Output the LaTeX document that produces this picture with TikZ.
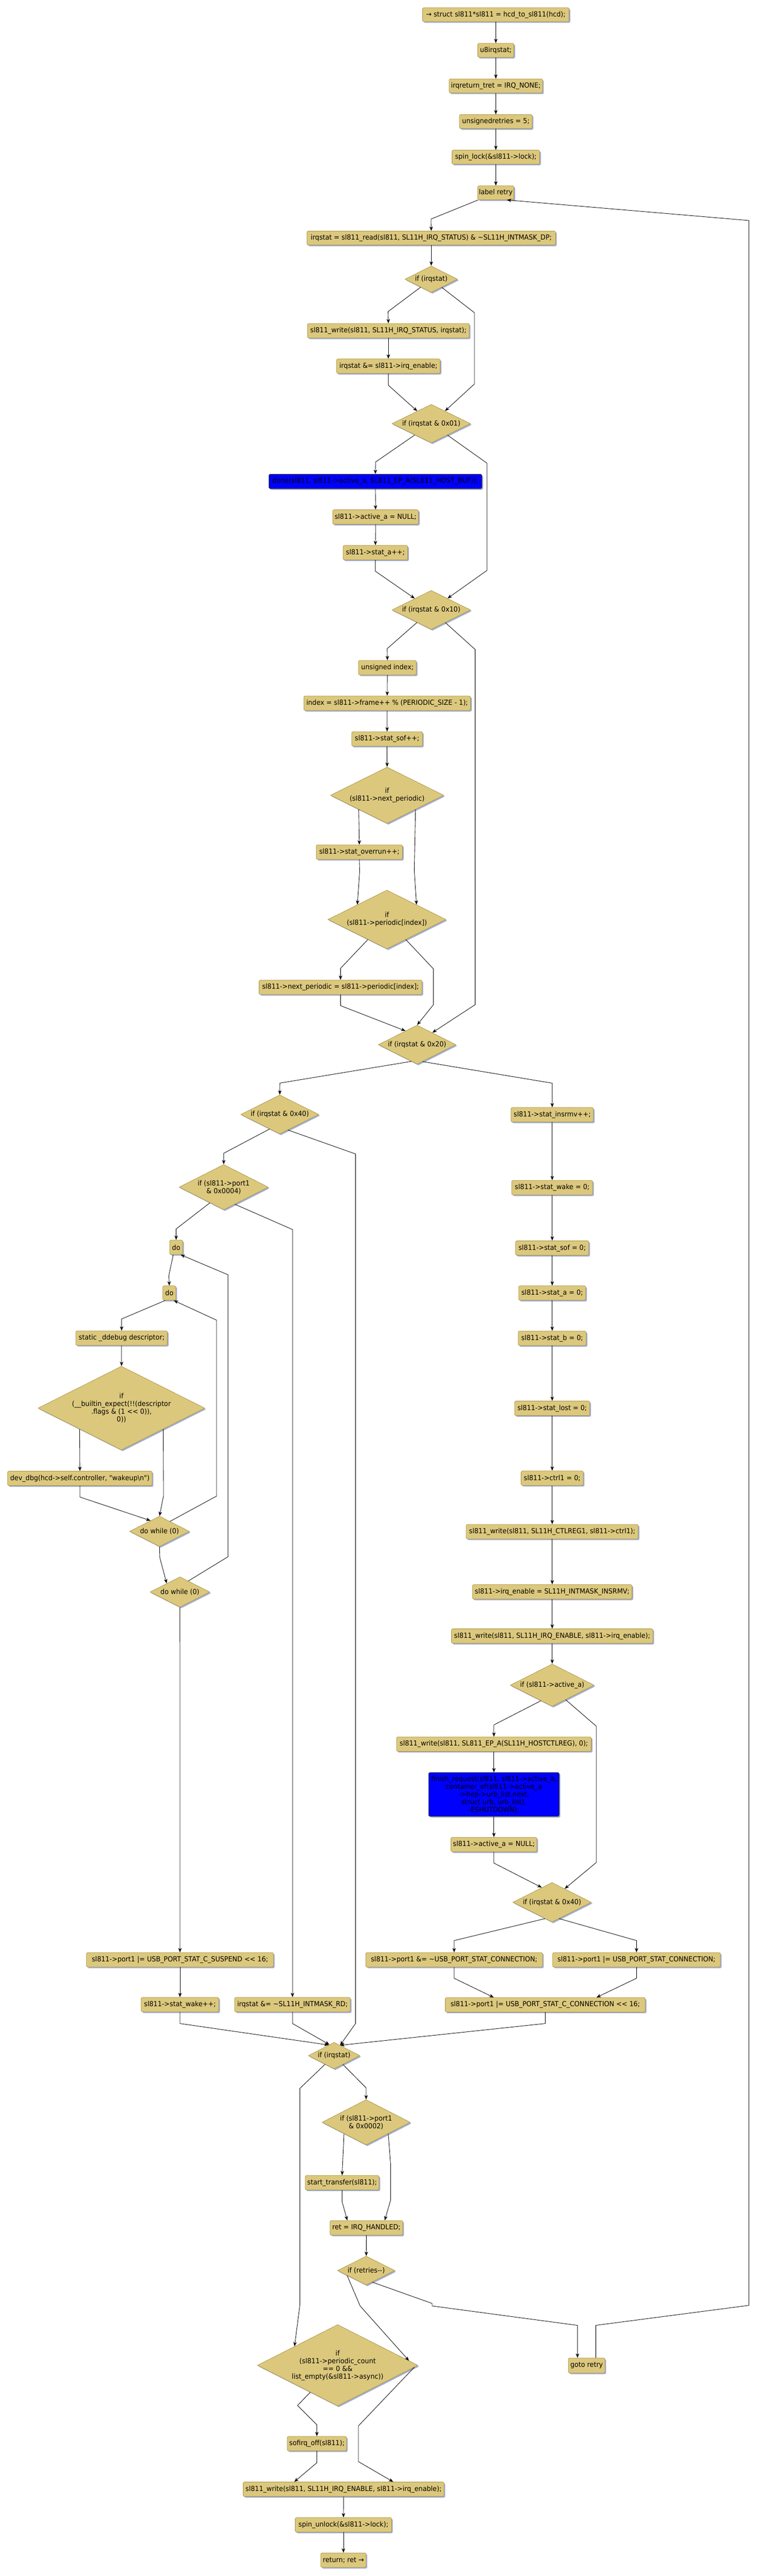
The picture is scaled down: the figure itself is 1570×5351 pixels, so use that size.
\documentclass[tikz,border=0pt]{standalone}
\usepackage{fontspec}
\newfontfamily\mf{DejaVu Sans}[FakeStretch=0.94]
\usetikzlibrary{shapes.geometric,shadows,arrows.meta,calc}
\definecolor{boxfill}{RGB}{220,200,125}
\definecolor{boxline}{RGB}{168,144,62}
\definecolor{shad}{RGB}{162,176,212}
\definecolor{bluefill}{RGB}{0,0,255}
\begin{document}
\begin{tikzpicture}[x=1pt,y=-1pt,
  box/.style={draw=boxline, fill=boxfill, rounded corners=3pt, line width=0.8pt,
    inner xsep=2.5pt, inner ysep=0pt, minimum height=30pt, align=center,
    font=\mf\fontsize{14.5}{16}\selectfont,
    drop shadow={shadow xshift=2.5pt, shadow yshift=-2.5pt, fill=shad, opacity=1}},
  bbox/.style={box, fill=bluefill, draw=boxline!40!black},
  dia/.style={shape=diamond, draw=boxline, fill=boxfill, line width=0.8pt, inner sep=0pt,
    drop shadow={shadow xshift=2.5pt, shadow yshift=-2.5pt, fill=shad, opacity=1}},
  dtext/.style={font=\mf\fontsize{14.5}{16}\selectfont, align=center, inner sep=0pt},
  arr/.style={draw=black, line width=0.9pt, -{Stealth[length=9pt,width=7pt,inset=2.5pt]}},
]
\useasboundingbox[fill=white] (0,0) rectangle (1570,5351);

% ---------- top column ----------
\node[box, minimum width=304pt, minimum height=29pt] (n1) at (1029,30.5) {→ struct sl811*sl811 = hcd\_to\_sl811(hcd);};
\node[box, minimum width=75pt, minimum height=29pt] (n2) at (1029,104.5) {u8irqstat;};
\node[box, minimum width=194pt, minimum height=29pt] (n3) at (1029,178.5) {irqreturn\_tret = IRQ\_NONE;};
\node[box, minimum width=151pt, minimum height=29pt] (n4) at (1029,252.5) {unsignedretries = 5;};
\node[box, minimum width=182pt, minimum height=29pt] (n5) at (1029,326.5) {spin\_lock(\&sl811->lock);};
\node[box, minimum width=75pt, minimum height=29pt] (n6) at (1029,400.5) {label retry};
\node[box, minimum width=516pt, minimum height=29pt] (n7) at (895,494.5) {irqstat = sl811\_read(sl811, SL11H\_IRQ\_STATUS) \& \textasciitilde SL11H\_INTMASK\_DP;};

\node[dia, minimum width=109pt, minimum height=55pt] (D1) at (895,580) {};
\node[dtext] (D1t) at (D1) {if (irqstat)};
\node[box, minimum width=336pt] (w1) at (806,687) {sl811\_write(sl811, SL11H\_IRQ\_STATUS, irqstat);};
\node[box, minimum width=215pt] (w2) at (806,760.6) {irqstat \&= sl811->irq\_enable;};
\node[dia, minimum width=163pt, minimum height=80pt] (D2) at (895,880) {};
\node[dtext] (D2t) at (D2) {if (irqstat \& 0x01)};
\node[bbox, minimum width=442pt] (done) at (779,1000) {done(sl811, sl811->active\_a, SL811\_EP\_A(SL811\_HOST\_BUF));};
\node[box, minimum width=178pt] (an1) at (779.5,1074) {sl811->active\_a = NULL;};
\node[box, minimum width=134pt] (sa) at (779,1148) {sl811->stat\_a++;};
\node[dia, minimum width=163pt, minimum height=81pt] (D3) at (895,1267) {};
\node[dtext] (D3t) at (D3) {if (irqstat \& 0x10)};
\node[box, minimum width=120pt] (ui) at (804,1387) {unsigned index;};
\node[box, minimum width=346pt] (ix) at (803.5,1460.7) {index = sl811->frame++ \% (PERIODIC\_SIZE - 1);};
\node[box, minimum width=147pt] (ss) at (803.4,1535) {sl811->stat\_sof++;};
\node[dia, minimum width=235pt, minimum height=117pt] (D4) at (803.4,1652) {};
\node[dtext] (D4t) at (D4) {if\\(sl811->next\_periodic)};
\node[box, minimum width=179pt] (so) at (745.8,1770) {sl811->stat\_overrun++;};
\node[dia, minimum width=245pt, minimum height=122pt] (D5) at (803,1910) {};
\node[dtext] (D5t) at (D5) {if\\(sl811->periodic[index])};
\node[box, minimum width=338pt] (np) at (706.7,2050.8) {sl811->next\_periodic = sl811->periodic[index];};
\node[dia, minimum width=161pt, minimum height=81pt] (D6) at (865.7,2170) {};
\node[dtext] (D6t) at (D6) {if (irqstat \& 0x20)};

% ---------- left branch ----------
\node[dia, minimum width=162pt, minimum height=81pt] (D7) at (580.6,2315) {};
\node[dtext] (D7t) at (D7) {if (irqstat \& 0x40)};
\node[dia, minimum width=185pt, minimum height=94pt] (D8) at (464.3,2466) {};
\node[dtext] (D8t) at (D8) {if (sl811->port1\\\& 0x0004)};
\node[box, minimum width=27pt] (do1) at (365.6,2591) {do};
\node[box, minimum width=27pt] (do2) at (351.4,2686) {do};
\node[box, minimum width=190pt] (dd) at (252.4,2779.6) {static \_ddebug descriptor;};
\node[dia, minimum width=346pt, minimum height=174pt] (D9) at (252,2925) {};
\node[dtext] (D9t) at (D9) {if\\(\_\_builtin\_expect(!!(descriptor\\.flags \& (1 << 0)),\\0))};
\node[box, minimum width=300pt] (dv) at (165.8,3071) {dev\_dbg(hcd->self.controller, "wakeup\textbackslash n")};
\node[dia, minimum width=124pt, minimum height=63pt] (dw1) at (331,3181) {};
\node[dtext] (dw1t) at (dw1) {do while (0)};
\node[dia, minimum width=124pt, minimum height=63pt] (dw2) at (373.4,3307) {};
\node[dtext] (dw2t) at (dw2) {do while (0)};
\node[box, minimum width=388pt] (sus) at (373.5,4071) {sl811->port1 |= USB\_PORT\_STAT\_C\_SUSPEND << 16;};
\node[box, minimum width=161pt] (swk) at (373.5,4164) {sl811->stat\_wake++;};
\node[box, minimum width=240pt] (rd) at (607,4164) {irqstat \&= \textasciitilde SL11H\_INTMASK\_RD;};

% ---------- right branch ----------
\node[box, minimum width=171pt] (ins) at (1146,2315.7) {sl811->stat\_insrmv++;};
\node[box, minimum width=168pt] (wk0) at (1146,2467) {sl811->stat\_wake = 0;};
\node[box, minimum width=152pt] (sf0) at (1146,2592.5) {sl811->stat\_sof = 0;};
\node[box, minimum width=139pt] (a0) at (1146,2686) {sl811->stat\_a = 0;};
\node[box, minimum width=141pt] (b0) at (1146,2780) {sl811->stat\_b = 0;};
\node[box, minimum width=156pt] (l0) at (1146,2925.4) {sl811->stat\_lost = 0;};
\node[box, minimum width=129pt] (c0) at (1146,3070.5) {sl811->ctrl1 = 0;};
\node[box, minimum width=357pt] (cw) at (1146,3181.7) {sl811\_write(sl811, SL11H\_CTLREG1, sl811->ctrl1);};
\node[box, minimum width=331pt] (ie) at (1146,3306.6) {sl811->irq\_enable = SL11H\_INTMASK\_INSRMV;};
\node[box, minimum width=418pt] (iw) at (1146,3398.5) {sl811\_write(sl811, SL11H\_IRQ\_ENABLE, sl811->irq\_enable);};
\node[dia, minimum width=174pt, minimum height=88pt] (D12) at (1146,3500.5) {};
\node[dtext] (D12t) at (D12) {if (sl811->active\_a)};
\node[box, minimum width=404pt] (ep) at (1025,3623) {sl811\_write(sl811, SL811\_EP\_A(SL11H\_HOSTCTLREG), 0);};
\node[bbox, minimum width=271pt, minimum height=91pt] (fr) at (1025,3727.5) {finish\_request(sl811, sl811->active\_a,\\container\_of(sl811->active\_a\\->hep->urb\_list.next,\\struct urb, urb\_list),\\-ESHUTDOWN);};
\node[box, minimum width=178pt] (an2) at (1025,3831.5) {sl811->active\_a = NULL;};
\node[dia, minimum width=163pt, minimum height=82pt] (D11) at (1145.7,3951.5) {};
\node[dtext] (D11t) at (D11) {if (irqstat \& 0x40)};
\node[box, minimum width=367pt] (pl) at (942.5,4071) {sl811->port1 \&= \textasciitilde USB\_PORT\_STAT\_CONNECTION;};
\node[box, minimum width=348pt] (pr) at (1321,4071) {sl811->port1 |= USB\_PORT\_STAT\_CONNECTION;};
\node[box, minimum width=415pt] (cc) at (1131.6,4164.5) {sl811->port1 |= USB\_PORT\_STAT\_C\_CONNECTION << 16;};

% ---------- bottom ----------
\node[dia, minimum width=107pt, minimum height=55pt] (DF) at (693.4,4270) {};
\node[dtext] (DFt) at (DF) {if (irqstat)};
\node[dia, minimum width=183pt, minimum height=94pt] (D10) at (759.8,4408.5) {};
\node[dtext] (D10t) at (D10) {if (sl811->port1\\\& 0x0002)};
\node[box, minimum width=153pt] (st) at (710,4534) {start\_transfer(sl811);};
\node[box, minimum width=151pt] (ret) at (760.4,4627.7) {ret = IRQ\_HANDLED;};
\node[dia, minimum width=119pt, minimum height=60pt] (D13) at (760,4716.5) {};
\node[dtext] (D13t) at (D13) {if (retries-{}-)};
\node[box, minimum width=76pt, minimum height=31pt] (goto) at (1217.5,4913.7) {goto retry};
\node[dia, minimum width=333pt, minimum height=169pt] (D14) at (700.7,4913.3) {};
\node[dtext] (D14t) at (D14) {if\\(sl811->periodic\_count\\== 0 \&\&\\list\_empty(\&sl811->async))};
\node[box, minimum width=123pt] (sof) at (657.6,5076) {sofirq\_off(sl811);};
\node[box, minimum width=417pt] (fw) at (713,5170.7) {sl811\_write(sl811, SL11H\_IRQ\_ENABLE, sl811->irq\_enable);};
\node[box, minimum width=200pt] (su) at (712.7,5244.7) {spin\_unlock(\&sl811->lock);};
\node[box, minimum width=94pt] (rt) at (712.7,5318) {return; ret →};

% ---------- connectors ----------
\draw[arr] (n1) -- (n2);
\draw[arr] (n2) -- (n3);
\draw[arr] (n3) -- (n4);
\draw[arr] (n4) -- (n5);
\draw[arr] (n5) -- (n6);
\draw[arr] (n6) -- (894.6,455) -- (n7.north);
\draw[arr] (n7) -- (D1);
\draw[arr] (D1) -- (805.4,647.2) -- (w1.north);
\draw[arr] (D1) -- (984.5,649.5) -- (984.5,797.7) -- (D2);
\draw[arr] (w1) -- (w2);
\draw[arr] (w2.south) -- (806,800.3) -- (D2);
\draw[arr] (D2) -- (779.4,959.7) -- (done.north);
\draw[arr] (D2) -- (1010.5,962) -- (1010.5,1185) -- (D3);
\draw[arr] (done) -- (an1);
\draw[arr] (an1) -- (sa);
\draw[arr] (sa.south) -- (779,1186.5) -- (D3);
\draw[arr] (D3) -- (803.5,1347.4) -- (ui.north);
\draw[arr] (D3) -- (986,1349) -- (986,2087) -- ($(D6.north)!0.39!(D6.east)$);
\draw[arr] (ui) -- (ix);
\draw[arr] (ix) -- (ss);
\draw[arr] (ss) -- (D4);
\draw[arr] (D4.south west) -- (so.north);
\draw[arr] (D4.south east) -- (859.7,1808) -- (D5.north east);
\draw[arr] (so.south) -- (746.5,1809.8) -- (D5.north west);
\draw[arr] (D5) -- (706.7,2011.5) -- (np.north);
\draw[arr] (D5) -- (899.5,2012.6) -- (899.5,2087) -- (D6.north);
\draw[arr] (np.south) -- (706.7,2089) -- ($(D6.north)!0.3!(D6.west)$);
\draw[arr] ($(D6.south)!0.15!(D6.west)$) -- (581,2249.8) -- (D7.north);
\draw[arr] ($(D6.south)!0.14!(D6.east)$) -- (1146,2250) -- (ins.north);
\draw[arr] ($(D7.south)!0.26!(D7.west)$) -- (464.3,2395.6) -- (D8.north);
\draw[arr] ($(D7.south)!0.21!(D7.east)$) -- (737.8,2397) -- (737.8,4203.3) -- ($(DF.north)!0.23!(DF.east)$);
\draw[arr] ($(D8.south)!0.31!(D8.west)$) -- (365.6,2552.7) -- (do1.north);
\draw[arr] ($(D8.south)!0.25!(D8.east)$) -- (607,2554) -- (rd.north);
\draw[arr] ([xshift=-6pt]do1.south) -- (350.4,2649.5) -- (do2.north);
\draw[arr] ([xshift=-8.6pt]do2.south) -- (252.4,2739.8) -- (dd.north);
\draw[arr] (dd) -- (D9);
\draw[arr] (D9.south west) -- (dv.north);
\draw[arr] (D9.south east) -- (339.3,3107.7) -- (dw1.north);
\draw[arr] (dv.south) -- (165.8,3109.7) -- ($(dw1.north)!0.3!(dw1.west)$);
\draw[arr] ($(dw1.north)!0.35!(dw1.east)$) -- (449.5,3107.7) -- (449.5,2742.3) -- ([xshift=9.3pt]do2.south);
\draw[arr] (dw1.south) -- (331.7,3236) -- ($(dw2.north)!0.44!(dw2.west)$);
\draw[arr] ($(dw2.north)!0.28!(dw2.east)$) -- (473.2,3233.7) -- (473.2,2648) -- ([xshift=9.4pt]do1.south);
\draw[arr] (dw2.south) -- (sus.north);
\draw[arr] (sus) -- (swk);
\draw[arr] (swk.south) -- (373.5,4203.3) -- ($(DF.north)!0.21!(DF.west)$);
\draw[arr] (rd.south) -- (607,4203.3) -- ($(DF.north)!0.18!(DF.west)$);
\draw[arr] (ins) -- (wk0);
\draw[arr] (wk0) -- (sf0);
\draw[arr] (sf0) -- (a0);
\draw[arr] (a0) -- (b0);
\draw[arr] (b0) -- (l0);
\draw[arr] (l0) -- (c0);
\draw[arr] (c0) -- (cw);
\draw[arr] (cw) -- (ie);
\draw[arr] (ie) -- (iw);
\draw[arr] (iw) -- (D12);
\draw[arr] ($(D12.south)!0.27!(D12.west)$) -- (1025,3583) -- (ep.north);
\draw[arr] ($(D12.south)!0.32!(D12.east)$) -- (1237.4,3585.7) -- (1237.4,3868.9) -- ($(D11.north)!0.32!(D11.east)$);
\draw[arr] (ep) -- (fr);
\draw[arr] (fr) -- (an2);
\draw[arr] (an2.south) -- (1025,3870) -- ($(D11.north)!0.26!(D11.west)$);
\draw[arr] ($(D11.south)!0.18!(D11.west)$) -- (942.5,4031) -- (pl.north);
\draw[arr] ($(D11.south)!0.18!(D11.east)$) -- (1321,4031) -- (pr.north);
\draw[arr] (pl.south) -- (942.5,4109.3) -- ([xshift=-107pt]cc.north);
\draw[arr] (pr.south) -- (1321,4109.3) -- ([xshift=106.4pt]cc.north);
\draw[arr] (cc.south) -- (1131.6,4203.3) -- ($(DF.north)!0.23!(DF.east)$);
\draw[arr] ($(DF.south)!0.35!(DF.west)$) -- (622.4,4338) -- (622.4,4788) -- ($(D14.north)!0.536!(D14.west)$);
\draw[arr] ($(DF.south)!0.34!(DF.east)$) -- (759.8,4337) -- (D10.north);
\draw[arr] (D10.south west) -- (st.north);
\draw[arr] (D10.south east) -- (810.6,4495.5) -- (810.6,4570.5) -- ([xshift=38pt]ret.north);
\draw[arr] (st.south) -- (710,4573.6) -- ([xshift=-39.6pt]ret.north);
\draw[arr] (ret) -- (D13);
\draw[arr] ($(D13.west)!0.34!(D13.south)$) -- (747.4,4790) -- ($(D14.north)!0.887!(D14.east)$);
\draw[arr] ($(D13.south)!0.21!(D13.east)$) -- (896.9,4784.8) -- (896.9,4790) -- (1198.5,4830.3) -- ([xshift=-19pt]goto.north);
\draw[arr] ([xshift=19pt]goto.north) -- (1236.5,4830.3) -- (1554,4788.8) -- (1554,458) -- ([xshift=23pt]n6.south);
\draw[arr] ($(D14.south)!0.34!(D14.west)$) -- (617.4,4996.7) -- (657.6,5036.7) -- (sof.north);
\draw[arr] ($(D14.east)!0.046!(D14.south)$) -- (743.7,5039.3) -- (743.7,5113.3) -- ([xshift=103pt]fw.north);
\draw[arr] (sof.south) -- (657.6,5115.7) -- ([xshift=-102.3pt]fw.north);
\draw[arr] (fw) -- (su);
\draw[arr] (su) -- (rt);
\end{tikzpicture}
\end{document}
